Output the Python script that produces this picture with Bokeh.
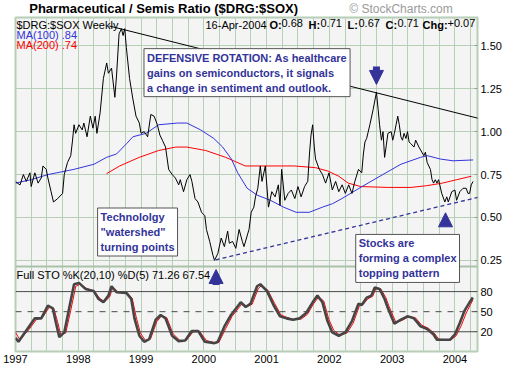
from bokeh.plotting import figure
from bokeh.layouts import column
from bokeh.models import (Range1d, FixedTicker, Label, Span, Arrow, NormalHead,
                          CustomJSTickFormatter, Grid, BoxAnnotation)
from bokeh.embed import file_html
from bokeh.resources import INLINE

# ---------------- data ----------------
PRICE_T = [1997.0, 1997.03, 1997.073, 1997.125, 1997.172, 1997.23, 1997.25, 1997.308, 1997.36, 1997.41,
           1997.4375, 1997.49, 1997.516, 1997.567, 1997.605, 1997.672, 1997.75, 1997.777, 1997.828, 1997.88,
           1997.906, 1997.933, 1997.958, 1998.011, 1998.0625, 1998.089, 1998.14, 1998.192, 1998.234, 1998.27,
           1998.297, 1998.348, 1998.40, 1998.453, 1998.48, 1998.53, 1998.583, 1998.61, 1998.65, 1998.6875,
           1998.714, 1998.74, 1998.766, 1998.817, 1998.87, 1998.92, 1998.973, 1999.0, 1999.05, 1999.105,
           1999.156, 1999.208, 1999.26, 1999.30, 1999.34, 1999.39, 1999.44, 1999.495, 1999.547, 1999.6,
           1999.625, 1999.677, 1999.73, 1999.78, 1999.81, 1999.86, 1999.906, 1999.964, 2000.016, 2000.042,
           2000.094, 2000.145, 2000.17, 2000.223, 2000.277, 2000.328, 2000.38, 2000.406, 2000.458, 2000.51,
           2000.5625, 2000.614, 2000.64, 2000.72, 2000.755, 2000.797, 2000.823, 2000.86, 2000.90, 2000.927,
           2000.98, 2001.03, 2001.083, 2001.136, 2001.1875, 2001.214, 2001.24, 2001.29, 2001.344, 2001.395,
           2001.45, 2001.5, 2001.55, 2001.605, 2001.656, 2001.683, 2001.708, 2001.734, 2001.76, 2001.78,
           2001.84, 2001.89, 2001.94, 2001.995, 2002.047, 2002.1, 2002.15, 2002.203, 2002.255, 2002.308,
           2002.36, 2002.406, 2002.464, 2002.516, 2002.542, 2002.567, 2002.594, 2002.645, 2002.698, 2002.75,
           2002.777, 2002.80, 2002.83, 2002.855, 2002.88, 2002.907, 2002.933, 2002.984, 2003.01, 2003.036,
           2003.0625, 2003.09, 2003.114, 2003.14, 2003.165, 2003.19, 2003.22, 2003.245, 2003.27, 2003.297,
           2003.348, 2003.375, 2003.427, 2003.505, 2003.53, 2003.558, 2003.61, 2003.636, 2003.66, 2003.6875,
           2003.714, 2003.74, 2003.79, 2003.84, 2003.87, 2003.895, 2003.95, 2004.0, 2004.027, 2004.078,
           2004.13, 2004.18, 2004.208, 2004.234, 2004.26, 2004.29]
PRICE_V = [0.71, 0.70, 0.69, 0.75, 0.71, 0.76, 0.68, 0.76, 0.70, 0.73,
           0.80, 0.78, 0.73, 0.65, 0.59, 0.61, 0.64, 0.75, 0.82, 0.86,
           0.94, 1.04, 0.99, 1.04, 1.01, 1.05, 0.97, 1.09, 1.02, 1.09,
           0.99, 1.11, 1.31, 1.40, 1.34, 1.37, 1.20, 1.33, 1.57, 1.60,
           1.56, 1.60, 1.49, 1.31, 1.19, 1.09, 1.05, 0.99, 1.00, 0.97,
           1.10, 1.09, 1.04, 0.98, 0.95, 0.91, 0.78, 0.75, 0.73, 0.69,
           0.72, 0.65, 0.72, 0.75, 0.71, 0.61, 0.59, 0.53, 0.51, 0.43,
           0.36, 0.28, 0.25, 0.29, 0.38, 0.33, 0.42, 0.35, 0.36, 0.32,
           0.43, 0.36, 0.33, 0.43, 0.53, 0.56, 0.62, 0.67, 0.80, 0.71,
           0.80, 0.56, 0.65, 0.62, 0.69, 0.57, 0.78, 0.60, 0.64, 0.66,
           0.61, 0.68, 0.62, 0.68, 0.71, 0.87, 0.98, 1.04, 0.91, 0.84,
           0.78, 0.75, 0.70, 0.76, 0.66, 0.71, 0.65, 0.69, 0.64, 0.69,
           0.64, 0.71, 0.78, 0.76, 0.87, 0.94, 0.96, 1.04, 1.13, 1.23,
           1.13, 1.04, 0.95, 1.00, 0.85, 0.92, 0.99, 1.00, 0.95, 0.99,
           1.04, 1.09, 1.04, 0.97, 0.95, 0.99, 0.96, 1.00, 0.94, 0.93,
           0.91, 0.95, 0.91, 0.86, 0.88, 0.82, 0.78, 0.72, 0.70, 0.72,
           0.70, 0.72, 0.64, 0.59, 0.62, 0.59, 0.65, 0.66, 0.60, 0.65,
           0.67, 0.67, 0.64, 0.64, 0.69, 0.71]

MA100_T = [1997.0, 1997.25, 1997.52, 1997.93, 1998.25, 1998.45, 1998.61, 1998.77, 1998.87, 1999.08,
           1999.28, 1999.58, 1999.73, 1999.95, 2000.16, 2000.3, 2000.44, 2000.54, 2000.69, 2000.85,
           2001.06, 2001.27, 2001.47, 2001.68, 2001.89, 2002.05, 2002.2, 2002.52, 2002.9, 2003.14,
           2003.45, 2003.56, 2003.77, 2003.97, 2004.29]
MA100_V = [0.70, 0.72, 0.75, 0.78, 0.81, 0.85, 0.87, 0.93, 0.97, 0.99,
           1.04, 1.05, 1.05, 1.01, 0.96, 0.91, 0.84, 0.76, 0.67, 0.63,
           0.60, 0.56, 0.53, 0.53, 0.56, 0.58, 0.61, 0.68, 0.76, 0.81,
           0.85, 0.86, 0.84, 0.83, 0.835]

MA200_T = [1998.45, 1998.66, 1998.97, 1999.28, 1999.55, 1999.73, 2000.03, 2000.35, 2000.66, 2000.92,
           2001.44, 2001.78, 2001.98, 2002.15, 2002.3, 2002.5, 2002.93, 2003.3, 2003.55, 2003.8,
           2004.03, 2004.26]
MA200_V = [0.755, 0.80, 0.85, 0.89, 0.91, 0.91, 0.89, 0.85, 0.80, 0.80,
           0.80, 0.79, 0.77, 0.74, 0.70, 0.68, 0.675, 0.675, 0.685, 0.70,
           0.72, 0.74]

STO_K_T = [1997.0, 1997.047, 1997.203, 1997.308, 1997.41, 1997.516, 1997.594, 1997.645, 1997.698, 1997.777,
           1997.855, 1997.933, 1998.011, 1998.114, 1998.245, 1998.323, 1998.40, 1998.48, 1998.53, 1998.61,
           1998.766, 1998.844, 1998.895, 1998.973, 1999.05, 1999.13, 1999.234, 1999.3125, 1999.39, 1999.495,
           1999.6, 1999.703, 1999.808, 1999.911, 2000.016, 2000.17, 2000.223, 2000.328, 2000.433, 2000.589,
           2000.667, 2000.745, 2000.848, 2000.90, 2001.005, 2001.11, 2001.214, 2001.317, 2001.42, 2001.527,
           2001.63, 2001.734, 2001.81, 2001.89, 2001.97, 2002.047, 2002.15, 2002.255, 2002.36, 2002.464,
           2002.516, 2002.594, 2002.67, 2002.723, 2002.80, 2002.88, 2002.933, 2003.036, 2003.14, 2003.245,
           2003.348, 2003.453, 2003.558, 2003.66, 2003.714, 2003.817, 2003.92, 2004.0, 2004.078, 2004.156,
           2004.234, 2004.286]
STO_K = [11, 5, 26, 40, 40, 59, 55, 33, 12, 19,
         55, 91, 93, 84, 81, 69, 64, 74, 88, 79,
         78, 69, 40, 14, 5, 9, 38, 45, 40, 14,
         6, 7, 21, 21, 5, 3, 5, 28, 45, 64,
         57, 62, 88, 91, 81, 60, 43, 40, 38, 40,
         48, 64, 74, 64, 36, 19, 14, 19, 36, 62,
         60, 71, 74, 86, 84, 69, 55, 32, 38, 43,
         40, 28, 24, 16, 8, 8, 8, 16, 33, 52,
         64, 71.26]

STO_D_T = [1997.0, 1997.07, 1997.22, 1997.33, 1997.43, 1997.54, 1997.61, 1997.67, 1997.72, 1997.80,
           1997.88, 1997.96, 1998.03, 1998.13, 1998.26, 1998.34, 1998.42, 1998.50, 1998.55, 1998.63,
           1998.78, 1998.86, 1998.92, 1998.99, 1999.07, 1999.15, 1999.25, 1999.33, 1999.41, 1999.51,
           1999.62, 1999.72, 1999.83, 1999.93, 2000.04, 2000.19, 2000.24, 2000.35, 2000.45, 2000.61,
           2000.69, 2000.77, 2000.87, 2000.92, 2001.02, 2001.13, 2001.23, 2001.34, 2001.44, 2001.55,
           2001.65, 2001.75, 2001.83, 2001.91, 2001.99, 2002.07, 2002.17, 2002.28, 2002.38, 2002.48,
           2002.54, 2002.61, 2002.69, 2002.74, 2002.82, 2002.90, 2002.95, 2003.06, 2003.16, 2003.27,
           2003.37, 2003.47, 2003.58, 2003.68, 2003.74, 2003.84, 2003.94, 2004.02, 2004.10, 2004.18,
           2004.25, 2004.286]
STO_D = [19, 8, 24, 38, 41, 57, 55, 35, 16, 18,
         52, 88, 91, 85, 80, 70, 65, 72, 86, 80,
         78, 70, 43, 18, 7, 9, 35, 44, 41, 17,
         7, 7, 20, 21, 7, 3, 4, 25, 43, 62,
         58, 61, 85, 89, 82, 62, 45, 41, 38, 39,
         46, 62, 72, 66, 39, 22, 15, 18, 33, 59,
         61, 69, 73, 84, 84, 71, 58, 34, 37, 43,
         41, 30, 25, 17, 9, 8, 8, 14, 29, 48,
         61, 67.54]

YEARS = [1997, 1998, 1999, 2000, 2001, 2002, 2003, 2004]
PRICE_TICKS = [0.25, 0.50, 0.75, 1.00, 1.25, 1.50]
STO_TICKS = [20, 50, 80]

RESIST_T = [1998.5, 2004.86]
RESIST_V = [1.615, 1.033]
SUPPORT_T = [2000.19, 2004.86]
SUPPORT_V = [0.253, 0.66]

TITLE = "Pharmaceutical / Semis Ratio ($DRG:$SOX)"
COPYRIGHT = "\u00a9 StockCharts.com"

# ---------------- layout constants ----------------
FONT = "Liberation Sans"
GRID = "#b7ceb7"
BG = "#f4f4f4"
NAVY = "#333399"
MA_BLUE = "#3333dd"

W = 504
HEAD_H = 16
H = 352
B_LEFT, B_RIGHT, B_TOP, B_BOTTOM = 15, 27, 1, 17
X0, X1 = 1997.0, 2004.36
FRAME_H = H - B_TOP - B_BOTTOM
GAP_PX = 2
LO_PX = 84
UP_PX = FRAME_H - GAP_PX - LO_PX
P_TOP, P_BOT = 1.665, 0.22
S_TOP, S_BOT = 116.0, -9.5
p_per_px = (P_TOP - P_BOT) / UP_PX
s_per_px = (S_TOP - S_BOT) / LO_PX
Y_LO = P_TOP - FRAME_H * p_per_px
S_HI = S_BOT + FRAME_H * s_per_px
K = p_per_px / s_per_px


def sto_y(s):
    return Y_LO + (s - S_BOT) * K


STO_TOP_P = sto_y(S_TOP)

# ---------------- header strip ----------------
head = figure(width=W, height=HEAD_H, x_range=Range1d(0, W), y_range=Range1d(0, HEAD_H),
              output_backend="svg", toolbar_location=None, title=None,
              min_border=0, min_border_left=0, min_border_right=0, min_border_top=0, min_border_bottom=0,
              background_fill_color="white", border_fill_color="white", outline_line_color=None)
head.xaxis.visible = False
head.yaxis.visible = False
head.xgrid.visible = False
head.ygrid.visible = False
head.add_layout(Label(x=B_LEFT, y=1, anchor="bottom_left", text=TITLE, text_font=FONT,
                      text_font_size="13px", text_font_style="bold", text_color="black"))
head.add_layout(Label(x=W - B_RIGHT, y=1, anchor="bottom_right", text=COPYRIGHT, text_font=FONT,
                      text_font_size="12px", text_color="#9a9a9a"))

# ---------------- main chart ----------------
p = figure(width=W, height=H,
           x_range=Range1d(X0, X1), y_range=Range1d(Y_LO, P_TOP),
           y_axis_location="right", output_backend="svg", toolbar_location=None,
           min_border_left=B_LEFT, min_border_right=B_RIGHT, min_border_top=B_TOP,
           min_border_bottom=B_BOTTOM, background_fill_color=BG, border_fill_color="white")
p.extra_y_ranges = {"sto": Range1d(S_BOT, S_HI)}
p.outline_line_color = GRID
p.outline_line_width = 2

p.xgrid.visible = False
p.ygrid.visible = False
quarters = [X0 + 0.25 * i for i in range(0, 30)]
p.add_layout(Grid(dimension=0, ticker=FixedTicker(ticks=quarters), grid_line_color=GRID, grid_line_width=1))
p.add_layout(Grid(dimension=1, ticker=FixedTicker(ticks=PRICE_TICKS), grid_line_color=GRID, grid_line_width=1))

yax = p.yaxis[0]
yax.ticker = FixedTicker(ticks=PRICE_TICKS + [sto_y(s) for s in STO_TICKS])
yax.formatter = CustomJSTickFormatter(
    args=dict(b=(P_BOT + STO_TOP_P) / 2, s0=S_BOT, y0=Y_LO, k=K),
    code="if (tick > b) { return tick.toFixed(2); } return Math.round(s0 + (tick - y0) / k).toString();")
yax.axis_line_color = None
yax.major_tick_in = 3
yax.major_tick_out = 0
yax.major_tick_line_color = "#9a9a9a"
yax.minor_tick_line_color = None
yax.major_label_standoff = 3
yax.major_label_text_font = FONT
yax.major_label_text_font_size = "11px"
yax.major_label_text_color = "black"

xax = p.xaxis[0]
xax.ticker = FixedTicker(ticks=YEARS)
xax.axis_line_color = None
xax.major_tick_in = 0
xax.major_tick_out = 0
xax.minor_tick_line_color = None
xax.major_label_standoff = 3
xax.major_label_text_font = FONT
xax.major_label_text_font_size = "11px"
xax.major_label_text_color = "black"

p.add_layout(BoxAnnotation(bottom=STO_TOP_P, top=P_BOT, fill_color="#a9c2a9", fill_alpha=1,
                           line_color=None, level="underlay"))

# price panel
p.line(MA200_T, MA200_V, line_color="#ff0000", line_width=1)
p.line(MA100_T, MA100_V, line_color=MA_BLUE, line_width=1)
p.line(PRICE_T, PRICE_V, line_color="black", line_width=1)
p.line(RESIST_T, RESIST_V, line_color="black", line_width=1)
p.line(SUPPORT_T, SUPPORT_V, line_color=NAVY, line_width=1.3, line_dash="4 3")

# stochastic panel
for lvl in STO_TICKS:
    p.add_layout(Span(location=sto_y(lvl), dimension="width", line_color="#4a4a4a", line_width=1,
                      line_dash="dashed" if lvl == 50 else "solid"))
p.line(STO_D_T, STO_D, y_range_name="sto", line_color="#ff0000", line_width=1)
p.line(STO_K_T, STO_K, y_range_name="sto", line_color="#454545", line_width=2.6)


def small(text, dy, color="black", bold=False, x=X0, dx=1):
    p.add_layout(Label(x=x, y=P_TOP, x_offset=dx, y_offset=dy, anchor="top_left", text=text,
                       text_font=FONT, text_font_size="11px", text_color=color,
                       text_font_style="bold" if bold else "normal"))


small("$DRG:$SOX Weekly", -1)
small("MA(100) .84", -11, MA_BLUE)
small("MA(200) .74", -21, "#ff0000")
for txt, dx, bold in [("16-Apr-2004", -272, False), ("O:", -208, True), ("0.68", -196, False),
                      ("H:", -169, True), ("0.71", -157, False), ("L:", -130, True),
                      ("0.67", -119, False), ("C:", -92, True), ("0.71", -80, False),
                      ("Chg:", -55, True), ("+0.07", -30, False)]:
    small(txt, -1, bold=bold, x=X1, dx=dx)

p.add_layout(Label(x=X0, y=STO_TOP_P, x_offset=1, y_offset=-1, anchor="top_left",
                   text="Full STO %K(20,10) %D(5)  71.26  67.54", text_font=FONT,
                   text_font_size="11px", text_color="black"))


def box(x, y, text):
    common = dict(x=x, y=y, anchor="top_left", text=text, text_font=FONT, text_font_size="11px",
                  text_font_style="bold", text_line_height=1.25, padding=3)
    p.add_layout(Label(x_offset=2, y_offset=-2, text_alpha=0, background_fill_color="#8a8a8a",
                       border_line_color=None, **common))
    p.add_layout(Label(text_color=NAVY, background_fill_color="white", border_line_color="#555555",
                       border_line_width=1, **common))


box(1999.047, 1.4835, "DEFENSIVE ROTATION: As healthcare\ngains on semiconductors, it signals\na change in sentiment and outlook.")
box(1998.308, 0.555, "Technololgy\n\"watershed\"\nturning points")
box(2002.42, 0.401, "Stocks are\nforming a complex\ntopping pattern")


def arrow(x, y0, y1):
    p.add_layout(Arrow(end=NormalHead(size=14, fill_color=NAVY, line_color=NAVY, line_width=1),
                       x_start=x, y_start=y0, x_end=x, y_end=y1, line_color=NAVY, line_width=7))


arrow(2002.75, 1.379, 1.275)
arrow(2003.85, 0.456, 0.527)
arrow(2000.195, sto_y(90), sto_y(113))

layout = column(head, p, spacing=0)
open("out.html", "w").write(file_html(layout, INLINE))
